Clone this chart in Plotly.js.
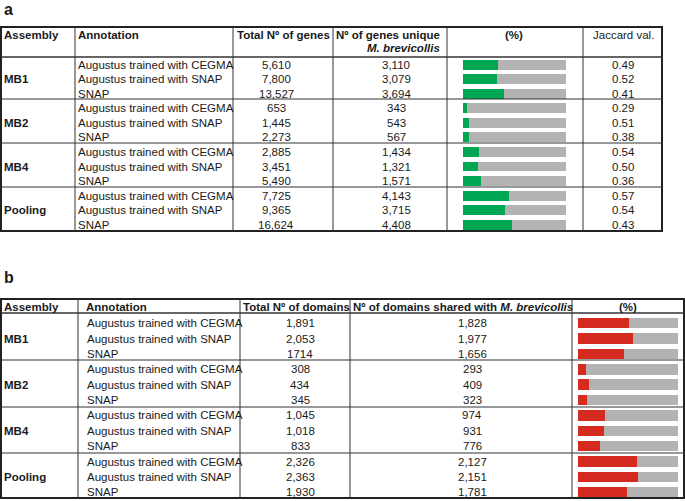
<!DOCTYPE html>
<html>
<head>
<meta charset="utf-8">
<script src="https://cdn.plot.ly/plotly-3.0.1.min.js"></script>
<style>html,body{margin:0;padding:0;background:#fff;}#chart{width:685px;height:501px;}</style>
</head>
<body>
<div id="chart"></div>
<script>
// ---------- data ----------
const assemblies = ['MB1', 'MB2', 'MB4', 'Pooling'];
const annotationNames = ['Augustus trained with CEGMA', 'Augustus trained with SNAP', 'SNAP'];

// panel a
const totalGenes  = [5610, 7800, 13527, 653, 1445, 2273, 2885, 3451, 5490, 7725, 9365, 16624];
const uniqueGenes = [3110, 3079, 3694, 343, 543, 567, 1434, 1321, 1571, 4143, 3715, 4408];
const jaccard     = ['0.49', '0.52', '0.41', '0.29', '0.51', '0.38', '0.54', '0.50', '0.36', '0.57', '0.54', '0.43'];
const mbrevGenes  = 9196;   // M. brevicollis gene count (bar = 100%)

// panel b
const totalDomainsLabels = ['1,891', '2,053', '1714', '308', '434', '345', '1,045', '1,018', '833', '2,326', '2,363', '1,930'];
const sharedDomains = [1828, 1977, 1656, 293, 409, 323, 974, 931, 776, 2127, 2151, 1781];
const mbrevDomains  = 3600; // estimated M. brevicollis domain count (bar = 100%)

// ---------- helpers ----------
const W = 685, H = 501;
const px = v => v / W;
const py = v => 1 - v / H;
const fmt = n => n.toLocaleString('en-US');
const FONT = 'Liberation Sans, Arial, sans-serif';
const FS = 11.5;
const TXT = '#1a1a1a';
const LINE = '#333333';

const rowIds = [];
assemblies.forEach(a => annotationNames.forEach(n => rowIds.push(a + ' | ' + n)));

const pctGenes = uniqueGenes.map(v => v / mbrevGenes * 100);
const pctDomains = sharedDomains.map(v => v / mbrevDomains * 100);

const GREEN = '#00a651', GRAY = '#b3b3b3', RED = '#d42a20';

const traces = [
  {type: 'bar', orientation: 'h', x: pctGenes, y: rowIds, xaxis: 'x', yaxis: 'y',
   marker: {color: GREEN}, hoverinfo: 'skip'},
  {type: 'bar', orientation: 'h', x: pctGenes.map(p => 100 - p), y: rowIds, xaxis: 'x', yaxis: 'y',
   marker: {color: GRAY}, hoverinfo: 'skip'},
  {type: 'bar', orientation: 'h', x: pctDomains, y: rowIds, xaxis: 'x2', yaxis: 'y2',
   marker: {color: RED}, hoverinfo: 'skip'},
  {type: 'bar', orientation: 'h', x: pctDomains.map(p => 100 - p), y: rowIds, xaxis: 'x2', yaxis: 'y2',
   marker: {color: GRAY}, hoverinfo: 'skip'}
];

// ---------- annotations ----------
const ann = [];
function txt(text, x, y, opt) {
  opt = opt || {};
  ann.push(Object.assign({
    text: text, x: x, y: y, xref: 'paper', yref: 'paper',
    xanchor: 'left', yanchor: 'middle', showarrow: false,
    font: {family: FONT, size: FS, color: TXT}
  }, opt));
}
function cell(text, x, row, yref, opt) {
  txt(text, px(x), rowIds[row], Object.assign({yref: yref}, opt || {}));
}

// panel labels
txt('<b>a</b>', px(2), py(9), {font: {family: FONT, size: 16, color: TXT}});
txt('<b>b</b>', px(2), py(277), {font: {family: FONT, size: 16, color: TXT}});

// headers a
txt('<b>Assembly</b>', px(2), py(35));
txt('<b>Annotation</b>', px(76), py(35));
txt('<b>Total Nº of genes</b>', px(235), py(35));
txt('<b>Nº of genes unique</b>', px(334), py(35));
txt('<b><i>M. brevicollis</i></b>', px(403), py(48), {xanchor: 'center'});
txt('<b>(%)</b>', px(514), py(35), {xanchor: 'center'});
txt('Jaccard val.', px(623), py(35), {xanchor: 'center'});

// headers b
txt('<b>Assembly</b>', px(2), py(307));
txt('<b>Annotation</b>', px(84), py(307));
txt('<b>Total Nº of domains</b>', px(241), py(307));
txt('<b>Nº of domains shared with <i>M. brevicollis</i></b>', px(351), py(307));
txt('<b>(%)</b>', px(628), py(307), {xanchor: 'center'});

// body
assemblies.forEach((a, g) => {
  cell('<b>' + a + '</b>', 2, g * 3 + 1, 'y');
  cell('<b>' + a + '</b>', 2, g * 3 + 1, 'y2');
});
rowIds.forEach((id, i) => {
  const name = annotationNames[i % 3];
  // a
  cell(name, 76, i, 'y');
  cell(fmt(totalGenes[i]), 276, i, 'y', {xanchor: 'center'});
  cell(fmt(uniqueGenes[i]), 396, i, 'y', {xanchor: 'center'});
  cell(jaccard[i], 623, i, 'y', {xanchor: 'center'});
  // b
  cell(name, 85, i, 'y2');
  cell(totalDomainsLabels[i], 300, i, 'y2', {xanchor: 'center'});
  cell(fmt(sharedDomains[i]), 472, i, 'y2', {xanchor: 'center'});
});

// ---------- table lines ----------
const shapes = [];
function hline(y, x0, x1, w) {
  shapes.push({type: 'line', xref: 'paper', yref: 'paper', x0: px(x0), x1: px(x1), y0: py(y), y1: py(y),
    line: {color: LINE, width: w || 1}});
}
function vline(x, y0, y1, w) {
  shapes.push({type: 'line', xref: 'paper', yref: 'paper', x0: px(x), x1: px(x), y0: py(y0), y1: py(y1),
    line: {color: LINE, width: w || 1}});
}
// panel a
shapes.push({type: 'rect', xref: 'paper', yref: 'paper', x0: px(1), x1: px(662), y0: py(27), y1: py(231),
  line: {color: '#222', width: 2}});
hline(57, 1, 662, 1.3);
[99, 143, 187].forEach(y => hline(y, 1, 662, 1));
[75, 233, 333, 447, 583].forEach(x => vline(x, 27, 231, 1));
// panel b
shapes.push({type: 'rect', xref: 'paper', yref: 'paper', x0: px(1), x1: px(684), y0: py(299), y1: py(498),
  line: {color: '#222', width: 2}});
hline(313, 1, 684, 1.3);
[360, 407, 453].forEach(y => hline(y, 1, 684, 1));
[78, 240, 350, 572].forEach(x => vline(x, 299, 498, 1));

// ---------- layout ----------
const hiddenX = {range: [0, 100], visible: false, fixedrange: true};
const layout = {
  width: W, height: H,
  margin: {l: 0, r: 0, t: 0, b: 0, pad: 0},
  paper_bgcolor: '#ffffff', plot_bgcolor: 'rgba(0,0,0,0)',
  showlegend: false, barmode: 'stack', bargap: 0.32,
  font: {family: FONT, size: FS, color: TXT},
  xaxis: Object.assign({domain: [px(463), px(566)], anchor: 'y'}, hiddenX),
  yaxis: {type: 'category', categoryorder: 'array', categoryarray: rowIds,
          domain: [py(232), py(57.4)], range: [11.5, -0.5], visible: false, anchor: 'x'},
  xaxis2: Object.assign({domain: [px(578), px(678)], anchor: 'y2'}, hiddenX),
  yaxis2: {type: 'category', categoryorder: 'array', categoryarray: rowIds,
           domain: [py(500), py(315.5)], range: [11.5, -0.5], visible: false, anchor: 'x2'},
  annotations: ann,
  shapes: shapes
};

Plotly.newPlot('chart', traces, layout, {staticPlot: true, displayModeBar: false});
</script>
</body>
</html>
